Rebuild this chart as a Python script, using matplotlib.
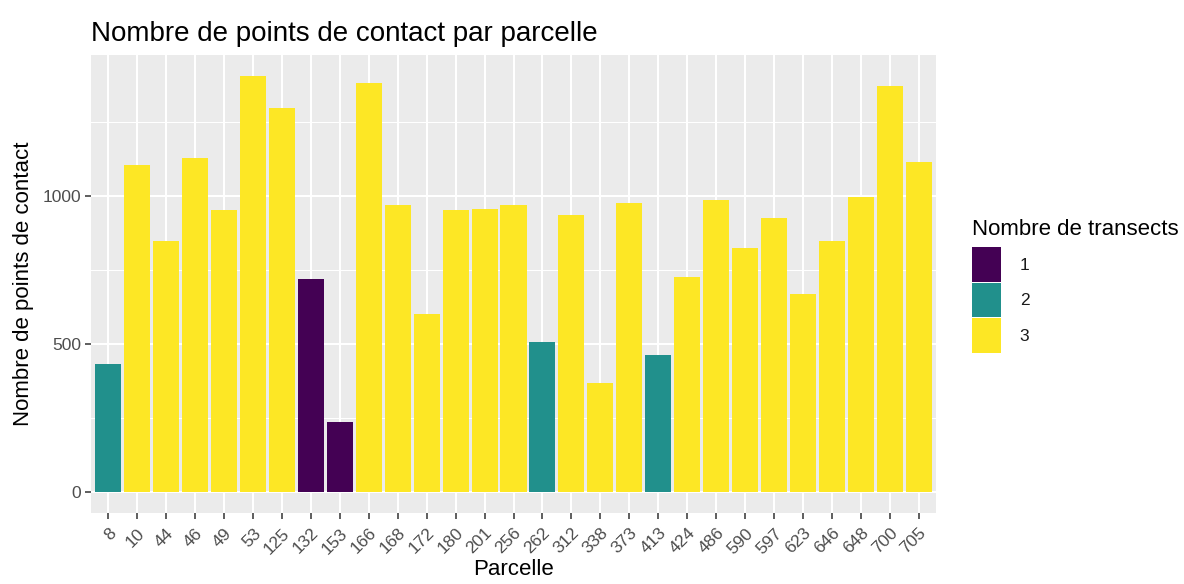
import matplotlib.pyplot as plt
from matplotlib.patches import Patch

plt.rcParams['font.family'] = ['Liberation Sans', 'DejaVu Sans']

# Contact points per plot, and number of transects per plot
parcelles = ['8', '10', '44', '46', '49', '53', '125', '132', '153', '166',
             '168', '172', '180', '201', '256', '262', '312', '338', '373', '413',
             '424', '486', '590', '597', '623', '646', '648', '700', '705']
points = [433, 1107, 848, 1129, 953, 1407, 1298, 719, 238, 1382,
          969, 603, 953, 957, 969, 508, 935, 368, 978, 463,
          728, 989, 826, 927, 669, 848, 998, 1373, 1116]
transects = [2, 3, 3, 3, 3, 3, 3, 1, 1, 3,
             3, 3, 3, 3, 3, 2, 3, 3, 3, 2,
             3, 3, 3, 3, 3, 3, 3, 3, 3]

couleurs = {1: '#440154', 2: '#21908C', 3: '#FDE725'}

fig = plt.figure(figsize=(11.84, 5.84), dpi=100)
ax = fig.add_axes([91 / 1184, 1 - 513 / 584, (936 - 91) / 1184, (513 - 55) / 584])

x = list(range(len(parcelles)))
ax.bar(x, points, width=0.9, color=[couleurs[t] for t in transects], zorder=3)

ymax = max(points)
ax.set_ylim(-0.05 * ymax, 1.05 * ymax)
ax.set_xlim(-0.6, len(parcelles) - 1 + 0.6)

# ggplot-like panel
ax.set_facecolor('#EBEBEB')
for s in ax.spines.values():
    s.set_visible(False)
ax.set_yticks([0, 500, 1000])
ax.set_yticks([250, 750, 1250], minor=True)
ax.set_xticks(x)
ax.set_xticklabels(parcelles, rotation=45, ha='right', va='top',
                   rotation_mode='anchor')
ax.grid(which='major', color='white', linewidth=1.5, zorder=0)
ax.grid(which='minor', axis='y', color='white', linewidth=0.75, zorder=0)
ax.set_axisbelow(True)
ax.tick_params(axis='both', which='major', length=4, width=1.1, color='#333333',
               labelcolor='#4D4D4D', labelsize=12.5, pad=3)
ax.tick_params(axis='x', which='major', pad=5)
ax.tick_params(axis='y', which='minor', length=0)

ax.set_xlabel('Parcelle', fontsize=16, color='black', labelpad=2)
ax.set_ylabel('Nombre de points de contact', fontsize=16, color='black', labelpad=6)
ax.set_title('Nombre de points de contact par parcelle', fontsize=20,
             loc='left', pad=10)

handles = [Patch(facecolor=couleurs[k], edgecolor='none') for k in (1, 2, 3)]
leg = fig.legend(handles, ['1', '2', '3'], title='Nombre de transects',
                 loc='upper left', bbox_to_anchor=(972 / 1184, 1 - 219 / 584),
                 frameon=False, fontsize=12.5, title_fontsize=16,
                 handlelength=1.65, handleheight=2.7, labelspacing=0.05,
                 handletextpad=1.1, borderpad=0, borderaxespad=0,
                 alignment='left')
leg._legend_box.sep = 5
for t in leg.get_texts():
    t.set_color('#1A1A1A')

fig.savefig('out.png', dpi=100)
